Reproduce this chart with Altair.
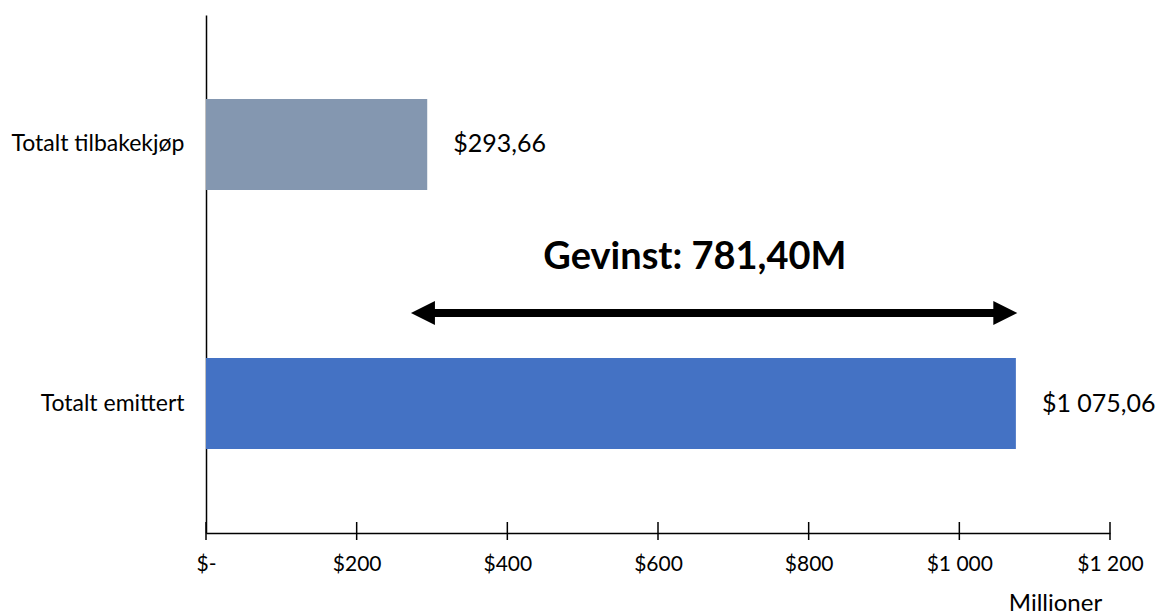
import altair as alt
import pandas as pd

# ---- data ----
categories = ["Totalt tilbakekjøp", "Totalt emittert"]
values = [293.66, 1075.06]
bar_colors = ["#8497B0", "#4472C4"]
tick_values = [0, 200, 400, 600, 800, 1000, 1200]
arrow_heads = [288, 1061]          # arrowhead centres (data units)
gain_text = "Gevinst: 781,40M"
gain_text_x = 649
axis_title = "Millioner"

FONT = "Lato"
W, H = 904, 518


def fmt(v):
    s = f"{v:,.2f}".replace(",", " ").replace(".", ",")
    return "$" + s


df = pd.DataFrame({"cat": categories, "val": values,
                   "label": [fmt(v) for v in values]})
ticks_df = pd.DataFrame({"t": tick_values})
shaft_df = pd.DataFrame({"x1": [arrow_heads[0]], "x2": [arrow_heads[1]]})
left_df = pd.DataFrame({"x": [arrow_heads[0]]})
right_df = pd.DataFrame({"x": [arrow_heads[1]]})
gain_df = pd.DataFrame({"x": [gain_text_x], "txt": [gain_text]})

xscale = alt.Scale(domain=[0, 1200], nice=False, zero=True)
yscale = alt.Scale(domain=categories, paddingInner=0.649, paddingOuter=0.324)

x_axis = alt.Axis(
    values=tick_values,
    labelExpr="datum.value == 0 ? '$-' : '$' + replace(format(datum.value, ','), ',', ' ')",
    labelFlush=False, labelOverlap=False,
    title=axis_title,
    titleX=849, titleY=77, titleAlign="center", titleBaseline="alphabetic",
    titleFont=FONT, titleFontSize=24, titleFontWeight="normal", titleColor="#000000",
    labelFont=FONT, labelFontSize=21, labelColor="#000000", labelPadding=20,
    ticks=False, grid=False, domainColor="#000000", domainWidth=1.5,
)
y_axis = alt.Axis(
    title=None, ticks=False, labelPadding=22, labelFont=FONT, labelFontSize=23,
    labelColor="#000000", domainColor="#000000", domainWidth=1.5, grid=False,
)

bars = alt.Chart(df).mark_bar().encode(
    x=alt.X("val:Q", scale=xscale, axis=x_axis),
    y=alt.Y("cat:N", scale=yscale, sort=categories, axis=y_axis),
    color=alt.Color("cat:N", scale=alt.Scale(domain=categories, range=bar_colors), legend=None),
)

labels = alt.Chart(df).mark_text(
    align="left", baseline="middle", dx=26, font=FONT, fontSize=25, color="#000000"
).encode(
    x=alt.X("val:Q", scale=xscale),
    y=alt.Y("cat:N", scale=yscale, sort=categories),
    text="label:N",
)

tick_marks = alt.Chart(ticks_df).mark_rule(color="#000000", strokeWidth=1.5).encode(
    x=alt.X("t:Q", scale=xscale),
    y=alt.value(H - 11),
    y2=alt.value(H + 7),
)

shaft = alt.Chart(shaft_df).mark_rule(color="#000000", strokeWidth=8).encode(
    x=alt.X("x1:Q", scale=xscale),
    x2="x2:Q",
    y=alt.value(298),
)

left_head = alt.Chart(left_df).mark_point(
    shape="M1,-1L-1,0L1,1Z", filled=True, size=576, color="#000000", opacity=1
).encode(x=alt.X("x:Q", scale=xscale), y=alt.value(298))

right_head = alt.Chart(right_df).mark_point(
    shape="M-1,-1L1,0L-1,1Z", filled=True, size=576, color="#000000", opacity=1
).encode(x=alt.X("x:Q", scale=xscale), y=alt.value(298))

gain = alt.Chart(gain_df).mark_text(
    font=FONT, fontSize=38, fontWeight="bold", color="#000000",
    align="center", baseline="middle"
).encode(x=alt.X("x:Q", scale=xscale), y=alt.value(243), text="txt:N")

chart = alt.layer(bars, labels, tick_marks, shaft, left_head, right_head, gain).properties(
    width=W, height=H,
    autosize=alt.AutoSizeParams(type="none"),
    padding={"left": 206, "top": 15, "right": 52, "bottom": 82},
    background="#ffffff",
).configure_view(stroke=None)

chart.save("out.html", embed_options={"renderer": "svg", "actions": False})
